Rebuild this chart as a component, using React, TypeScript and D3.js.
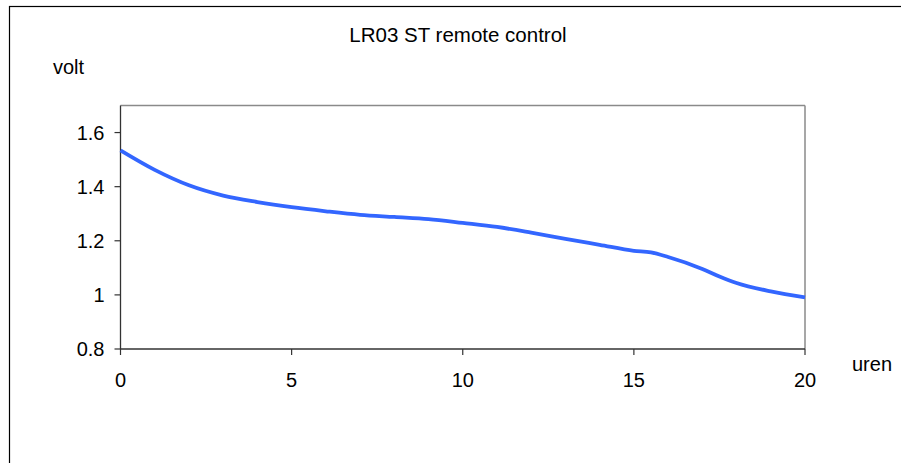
import React from "react";
import * as d3 from "d3";

const hours = [0, 1, 2, 3, 4, 5, 6, 7, 8, 9, 10, 11, 12, 13, 14, 15, 15.5, 16, 17, 17.5, 18, 19, 20];
const volts = [1.534, 1.462, 1.405, 1.367, 1.343, 1.324, 1.309, 1.296, 1.288, 1.280, 1.266, 1.251, 1.230, 1.207, 1.185, 1.163, 1.157, 1.140, 1.096, 1.068, 1.044, 1.013, 0.991];
const xTicks = [0, 5, 10, 15, 20];
const yTicks = [0.8, 1, 1.2, 1.4, 1.6];
const title = "LR03 ST remote control";
const yLabel = "volt";
const xLabel = "uren";

export default function App() {
  const W = 901, H = 463;
  const left = 120.5, right = 805, top = 105.5, bottom = 349;
  const x = d3.scaleLinear().domain([0, 20]).range([left, right]);
  const y = d3.scaleLinear().domain([0.8, 1.7]).range([bottom, top]);
  const pts = hours.map((h, i) => [h, volts[i]] as [number, number]);
  const line = d3.line<[number, number]>()
    .x(d => x(d[0]))
    .y(d => y(d[1]))
    .curve(d3.curveMonotoneX);
  const font = "Liberation Sans, Arial, sans-serif";
  const fmt = (v: number) => (v === 1 ? "1" : d3.format(".1f")(v));
  return (
    <svg width={W} height={H} style={{ position: "absolute", left: 0, top: 0, background: "#fff" }}
      fontFamily={font}>
      <rect x={9.5} y={6.5} width={W + 10} height={H + 10} fill="#fff" stroke="#000" strokeWidth={1.2} />
      <text x={458} y={42} textAnchor="middle" fontSize={20.5} fill="#000">{title}</text>
      <text x={53} y={74} fontSize={20} fill="#000">{yLabel}</text>
      <text x={852} y={371} fontSize={20} fill="#000">{xLabel}</text>
      {/* plot frame top/right */}
      <line x1={left} x2={right} y1={top} y2={top} stroke="#8a8a8a" strokeWidth={1.5} />
      <line x1={right} x2={right} y1={top} y2={bottom} stroke="#8a8a8a" strokeWidth={1.5} />
      {/* y axis */}
      <line x1={left} x2={left} y1={top} y2={bottom} stroke="#333" strokeWidth={1.3} />
      {yTicks.map(t => (
        <g key={"y" + t}>
          <line x1={left - 6} x2={left} y1={y(t)} y2={y(t)} stroke="#333" strokeWidth={1.2} />
          <text x={104.5} y={y(t) + 7} textAnchor="end" fontSize={20} fill="#000">{fmt(t)}</text>
        </g>
      ))}
      {/* x axis */}
      <line x1={left} x2={right} y1={bottom} y2={bottom} stroke="#333" strokeWidth={1.3} />
      {xTicks.map(t => (
        <g key={"x" + t}>
          <line x1={x(t)} x2={x(t)} y1={bottom} y2={bottom + 6} stroke="#333" strokeWidth={1.2} />
          <text x={x(t)} y={387} textAnchor="middle" fontSize={20} fill="#000">{t}</text>
        </g>
      ))}
      <path d={line(pts) || ""} fill="none" stroke="#3366ff" strokeWidth={3.8} strokeLinejoin="round" />
    </svg>
  );
}
